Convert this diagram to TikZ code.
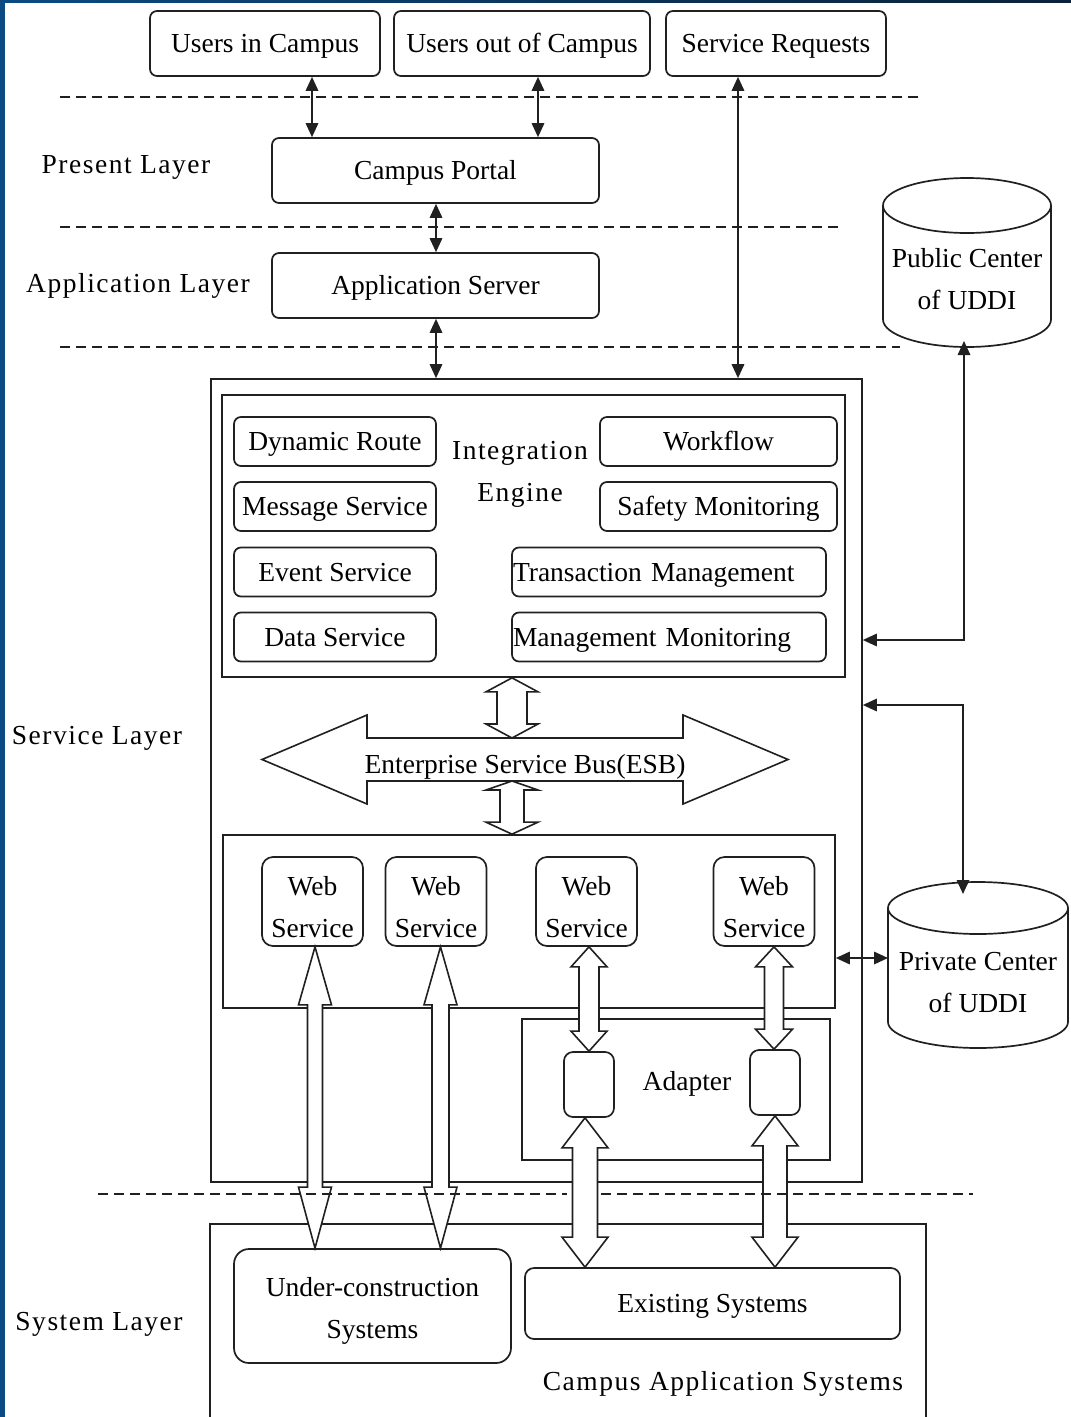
\documentclass[tikz,border=0pt]{standalone}
\usepackage{fontspec}
\setmainfont{Liberation Serif}
\newfontfamily\spacedserif[LetterSpace=5.5]{Liberation Serif}
\usetikzlibrary{arrows.meta,calc}

\definecolor{ink}{RGB}{32,32,32}
\definecolor{frameblue}{RGB}{11,74,130}
\definecolor{framenavy}{RGB}{10,34,56}

% hollow two-headed arrow between two anchors, along the vertical line x = #3
% #4 shaft half width, #5 head half width, #6 upper head length, #7 lower head length
\newcommand\fatarrow[7]{%
  \draw[fat] let \p1=(#1), \p2=(#2) in
    (#3-#5,\y1-#6) -- (#3,\y1) -- (#3+#5,\y1-#6) -- (#3+#4,\y1-#6)
    -- (#3+#4,\y2+#7) -- (#3+#5,\y2+#7) -- (#3,\y2) -- (#3-#5,\y2+#7)
    -- (#3-#4,\y2+#7) -- (#3-#4,\y1-#6) -- cycle;}
% taller first line, to sit two-line labels a little lower in their boxes
\newcommand\lowerby[1]{\rule{0pt}{#1}}

\begin{document}
\begin{tikzpicture}[x=1pt,y=-1pt,
  every node/.style={font=\fontsize{27.5}{42}\selectfont, text=black},
  box/.style={draw=ink, line width=1.7pt, rounded corners=7pt, inner sep=0pt, align=center},
  plainbox/.style={draw=ink, line width=1.7pt, inner sep=0pt},
  txt/.style={inner sep=0pt, align=center},
  one/.style={text height=18.8pt, text depth=0pt},
  spaced/.style={font=\fontsize{27.5}{42}\spacedserif},
  link/.style={draw=ink, line width=1.7pt,
    {Triangle[length=14pt,width=12.5pt]}-{Triangle[length=14pt,width=12.5pt]}},
  fat/.style={draw=ink, line width=1.6pt, fill=white, line join=miter},
  layersep/.style={draw=ink, line width=1.7pt, dash pattern=on 10pt off 6pt},
  cyl/.style={draw=ink, line width=1.7pt},
]
\useasboundingbox (0,0) rectangle (1071,1417);

% page frame strips
\fill[frameblue] (0,0) rectangle (4.5,1417);
\shade[left color=frameblue, right color=framenavy] (0,0) rectangle (1071,2.5);

% layer separators
\draw[layersep] (60,97) -- (920,97);
\draw[layersep] (60,227) -- (838,227);
\draw[layersep] (60,347) -- (900,347);

% top row
\node[box,one,minimum width=230pt,minimum height=65pt] (uic) at (265,43.5) {Users in Campus};
\node[box,one,minimum width=256pt,minimum height=65pt] (uoc) at (522,43.5) {Users out of Campus};
\node[box,one,minimum width=220pt,minimum height=65pt] (sreq) at (776,43.5) {Service Requests};

% present and application layers
\node[box,one,minimum width=327pt,minimum height=65pt] (portal) at (435.5,170.5) {Campus Portal};
\node[box,one,minimum width=327pt,minimum height=65pt] (appsrv) at (435.5,285.5) {Application Server};

% layer names
\node[txt,one,spaced] (lpres) at (126,164) {Present Layer};
\node[txt,one,spaced] (lapp) at (138,283) {Application Layer};
\node[txt,one,spaced] (lsvc) at (97,735) {Service Layer};
\node[txt,one,spaced] (lsys) at (99,1321) {System Layer};

% service layer
\node[plainbox,minimum width=651pt,minimum height=803pt] (svc) at (536.5,780.5) {};
\node[plainbox,minimum width=623pt,minimum height=282pt] (integ) at (533.5,536) {};

\node[box,one,minimum width=202pt,minimum height=49pt] (dyn) at (335,441.5) {Dynamic Route};
\node[box,one,minimum width=202pt,minimum height=49pt] (msg) at (335,506.5) {Message Service};
\node[box,one,minimum width=202pt,minimum height=49pt] (evt) at (335,572) {Event Service};
\node[box,one,minimum width=202pt,minimum height=49pt] (dat) at (335,637) {Data Service};
\node[box,one,minimum width=237pt,minimum height=49pt] (wf) at (718.5,441.5) {Workflow};
\node[box,one,minimum width=237pt,minimum height=49pt] (safe) at (718.5,506.5) {Safety Monitoring};
\node[box,one,inner xsep=1pt,text width=312pt,align=left,minimum height=49pt] (trans) at (669,572) {Transaction Management};
\node[box,one,inner xsep=1pt,text width=312pt,align=left,minimum height=49pt] (mgmt) at (669,637) {Management Monitoring};
\node[txt,spaced] (ieng) at (520,474) {Integration\\Engine};

% enterprise service bus
\draw[fat] (262,759.5) -- (367,715) -- (367,738) -- (683,738) -- (683,715) -- (788,759.5)
  -- (683,804) -- (683,781) -- (367,781) -- (367,804) -- cycle;
\node[txt,one] (esb) at (525,764) {Enterprise Service Bus(ESB)};
\coordinate (esbtop) at (512,738);
\coordinate (esbbot) at (512,781);

% web services
\node[plainbox,minimum width=612pt,minimum height=173pt] (wscont) at (529,921.5) {};
\node[box,rounded corners=11pt,minimum width=101pt,minimum height=89pt] (ws1) at (312.5,901.5) {\lowerby{31pt}Web\\Service};
\node[box,rounded corners=11pt,minimum width=101pt,minimum height=89pt] (ws2) at (436,901.5) {\lowerby{31pt}Web\\Service};
\node[box,rounded corners=11pt,minimum width=101pt,minimum height=89pt] (ws3) at (586.5,901.5) {\lowerby{31pt}Web\\Service};
\node[box,rounded corners=11pt,minimum width=101pt,minimum height=89pt] (ws4) at (764,901.5) {\lowerby{31pt}Web\\Service};

% adapters
\node[plainbox,minimum width=308pt,minimum height=141pt] (adbox) at (676,1089.5) {};
\node[txt,one] (adtxt) at (687,1081) {Adapter};
\node[box,rounded corners=9pt,minimum width=50pt,minimum height=65pt] (ad1) at (589,1084.5) {};
\node[box,rounded corners=9pt,minimum width=50pt,minimum height=65pt] (ad2) at (775,1082.5) {};

% system layer
\draw[plainbox] (210,1420) -- (210,1224) -- (926,1224) -- (926,1420);
\node[box,rounded corners=15pt,minimum width=277pt,minimum height=114pt] (ucs) at (372.5,1306) {\lowerby{29pt}Under-construction\\Systems};
\node[box,one,rounded corners=9pt,minimum width=375pt,minimum height=71pt] (exist) at (712.5,1303.5) {Existing Systems};
\node[txt,one,spaced] (lcas) at (723,1381) {Campus Application Systems};

% UDDI registries
\draw[cyl] (883,205.5) -- (883,319.5) arc[start angle=180,end angle=360,x radius=84pt,y radius=27.5pt] -- (1051,205.5);
\draw[cyl] (967,205.5) ellipse[x radius=84pt,y radius=27.5pt];
\node[txt] (pub) at (967,279) {Public Center\\of UDDI};
\coordinate (pubport) at (964,341);

\draw[cyl] (888,908) -- (888,1022) arc[start angle=180,end angle=360,x radius=90pt,y radius=26pt] -- (1068,908);
\draw[cyl] (978,908) ellipse[x radius=90pt,y radius=26pt];
\node[txt] (priv) at (978,983) {Private Center\\of UDDI};
\coordinate (privport) at (963,894);
\coordinate (privwest) at (888,958);

% hollow connectors
\fatarrow{integ.south}{esbtop}{512}{15}{26}{14}{14}
\fatarrow{esbbot}{wscont.north}{512}{12}{26}{9}{12}
\fatarrow{ws1.south}{ucs.north}{315}{7.5}{16.5}{58}{61}
\fatarrow{ws2.south}{ucs.north}{440.5}{8.5}{16.5}{58}{61}
\fatarrow{ws3.south}{ad1.north}{589}{10}{18}{20}{20}
\fatarrow{ws4.south}{ad2.north}{774}{9.5}{18.5}{20}{20}
\fatarrow{ad1.south}{exist.north}{585}{12.5}{23}{30}{30}
\fatarrow{ad2.south}{exist.north}{775}{12}{23}{30}{30}

% system layer separator
\draw[layersep] (98,1194) -- (567,1194);
\draw[layersep] (601,1194) -- (973,1194);

% request connectors
\coordinate (xa) at (312,0);
\coordinate (xb) at (538,0);
\coordinate (xc) at (436,0);
\coordinate (xd) at (738,0);
\coordinate (ya) at (0,640);
\coordinate (yb) at (0,705);
\coordinate (yc) at (0,958);
\draw[link] (uic.south -| xa) -- (portal.north -| xa);
\draw[link] (uoc.south -| xb) -- (portal.north -| xb);
\draw[link] (portal.south -| xc) -- (appsrv.north -| xc);
\draw[link] (appsrv.south -| xc) -- (svc.north -| xc);
\draw[link] (sreq.south -| xd) -- (svc.north -| xd);
\draw[link] (pubport) |- (svc.east |- ya);
\draw[link] (privport) |- (svc.east |- yb);
\draw[link] (wscont.east |- yc) -- (privwest);
\end{tikzpicture}
\end{document}
